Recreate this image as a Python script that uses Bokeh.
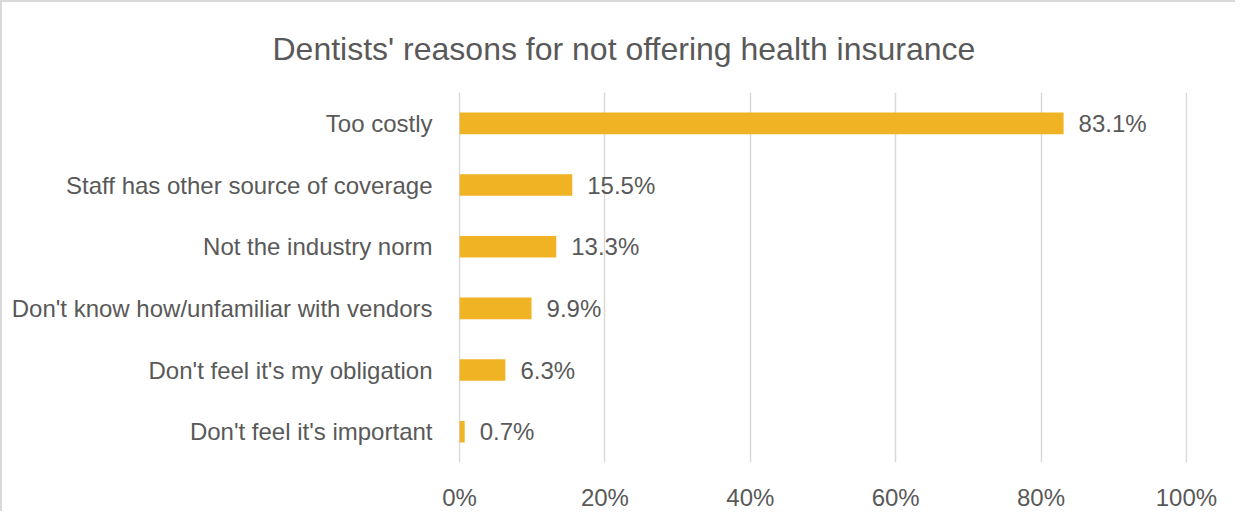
from bokeh.plotting import figure
from bokeh.models import ColumnDataSource, FactorRange, FixedTicker, CustomJSTickFormatter
from bokeh.core.properties import value
from bokeh.embed import file_html
from bokeh.resources import INLINE

categories = [
    "Too costly",
    "Staff has other source of coverage",
    "Not the industry norm",
    "Don't know how/unfamiliar with vendors",
    "Don't feel it's my obligation",
    "Don't feel it's important",
]
percentages = [83.1, 15.5, 13.3, 9.9, 6.3, 0.7]
tick_values = [0, 20, 40, 60, 80, 100]
title_text = "Dentists' reasons for not offering health insurance"

labels = [f"{v:.1f}%" for v in percentages]
source = ColumnDataSource(dict(cat=categories, val=percentages, lab=labels))

FONT = "Liberation Sans"
TXT = "#595959"

p = figure(
    width=1235, height=511,
    y_range=FactorRange(*reversed(categories)),
    x_range=(-0.15, 100.15),
    output_backend="svg", toolbar_location=None,
    min_border_left=456, min_border_right=50,
    min_border_top=90, min_border_bottom=45,
)
p.styles = {"border-left": "2px solid #d9d9d9", "border-top": "2px solid #d9d9d9"}

p.hbar(y="cat", right="val", left=0, height=0.35, source=source,
       fill_color="#F0B323", line_color=None)
p.text(x="val", y="cat", text="lab", source=source,
       x_offset=15, text_baseline="middle", text_align="left",
       text_font=value(FONT), text_font_size="24px", text_color=TXT)

p.title.text = title_text
p.title.align = "left"
p.title.offset = -186
p.title.text_font = FONT
p.title.text_font_size = "32px"
p.title.text_font_style = "normal"
p.title.text_color = TXT
p.title.standoff = 52

p.outline_line_color = None
p.ygrid.grid_line_color = None
p.xgrid.grid_line_color = "#D9D9D9"
p.xgrid.grid_line_width = 1.5
p.xaxis.ticker = FixedTicker(ticks=tick_values)
p.xaxis.formatter = CustomJSTickFormatter(code="return tick + '%';")

for ax in (p.xaxis, p.yaxis):
    ax.axis_line_color = None
    ax.major_tick_line_color = None
    ax.minor_tick_line_color = None
    ax.major_label_text_font = FONT
    ax.major_label_text_font_size = "24px"
    ax.major_label_text_color = TXT
p.xaxis.major_label_standoff = 15
p.yaxis.major_label_standoff = 20

open("out.html", "w").write(file_html(p, INLINE))
